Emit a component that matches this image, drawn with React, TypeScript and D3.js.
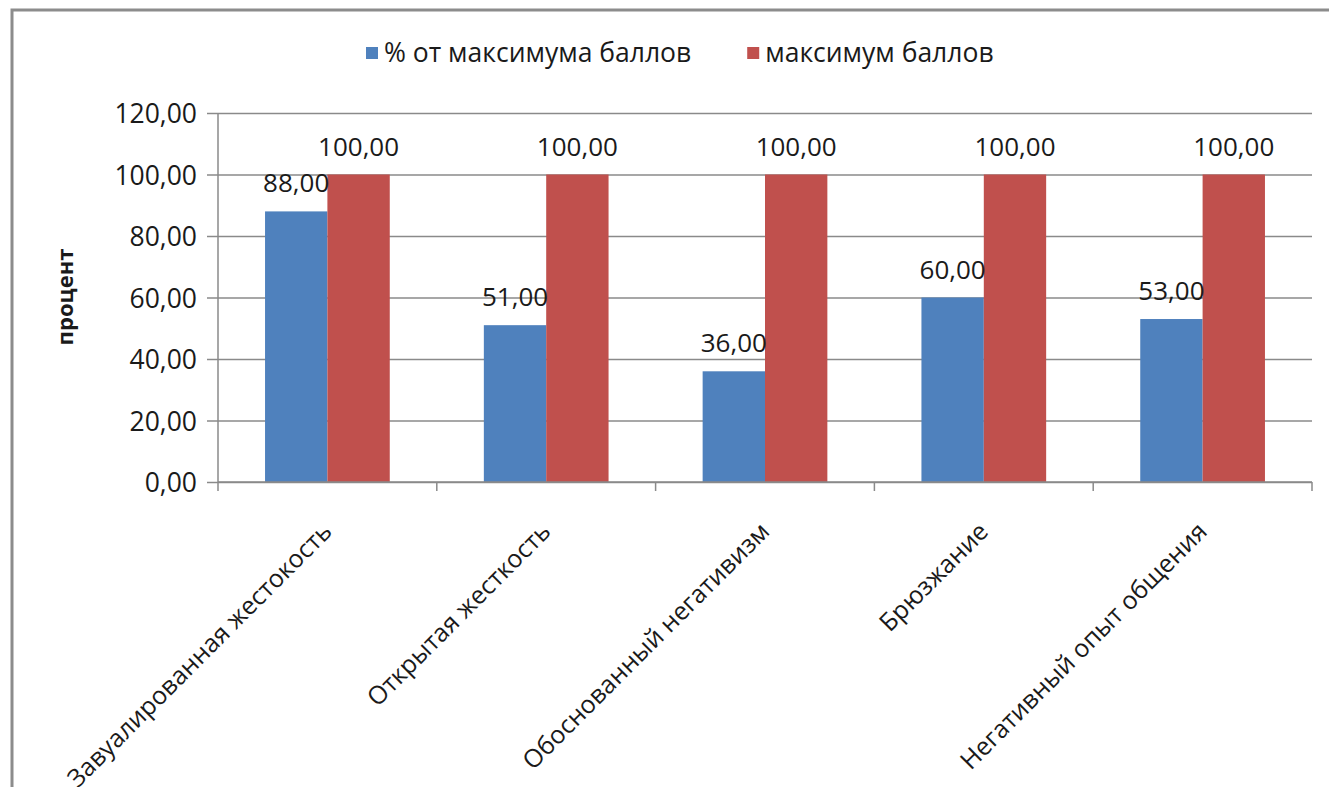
import { useRef, useEffect } from 'react';
import * as d3 from 'd3';

const categories = [
  'Завуалированная жестокость',
  'Открытая жесткость',
  'Обоснованный негативизм',
  'Брюзжание',
  'Негативный опыт общения',
];
const seriesNames = ['% от максимума баллов', 'максимум баллов'];
const percentValues = [88, 51, 36, 60, 53];
const maxValues = [100, 100, 100, 100, 100];
const yTicks = [0, 20, 40, 60, 80, 100, 120];
const colors = ['#4F81BD', '#C0504D'];

const W = 1329;
const H = 787;
const FONT = '"Open Sans", sans-serif';

export default function App() {
  const svgRef = useRef<SVGSVGElement>(null);

  const draw = () => {
    const svg = d3.select(svgRef.current);
    svg.selectAll('*').remove();

    const left = 218, right = 1312, top = 113, bottom = 482;

    // outer chart border
    svg.append('rect')
      .attr('x', 12).attr('y', 10)
      .attr('width', W + 20).attr('height', H + 20)
      .attr('fill', '#fff')
      .attr('stroke', '#8c8c8c')
      .attr('stroke-width', 3);

    const x0 = d3.scaleBand<string>()
      .domain(categories)
      .range([left, right])
      .paddingInner(0.43)
      .paddingOuter(0.215);
    const x1 = d3.scaleBand<number>()
      .domain([0, 1])
      .range([0, x0.bandwidth()]);
    const y = d3.scaleLinear().domain([0, 120]).range([bottom, top]);

    // gridlines + y ticks
    const yAxis = d3.axisLeft(y)
      .tickValues(yTicks)
      .tickSize(-(right - left) - 11)
      .tickFormat(d => d3.format('.2f')(d as number).replace('.', ','));
    const ya = svg.append('g')
      .attr('transform', `translate(${left - 11},0)`)
      .call(yAxis);
    ya.select('.domain').remove();
    ya.selectAll('.tick line')
      .attr('stroke', '#8a8a8a')
      .attr('stroke-width', 1.5);
    ya.selectAll('.tick text')
      .attr('x', -10)
      .attr('dy', '0.36em')
      .style('font-family', FONT)
      .style('font-size', '26.5px')
      .style('fill', '#1a1a1a');

    // y axis line
    svg.append('line')
      .attr('x1', left).attr('x2', left)
      .attr('y1', top).attr('y2', bottom)
      .attr('stroke', '#8a8a8a').attr('stroke-width', 1.5);

    // bars
    const data = categories.map((c, i) => ({ cat: c, vals: [percentValues[i], maxValues[i]] }));
    const groups = svg.append('g').selectAll('g')
      .data(data)
      .enter()
      .append('g')
      .attr('transform', d => `translate(${x0(d.cat)},0)`);

    groups.selectAll('rect')
      .data(d => d.vals.map((v, k) => ({ v, k })))
      .enter()
      .append('rect')
      .attr('x', d => x1(d.k)!)
      .attr('width', x1.bandwidth())
      .attr('y', d => y(d.v))
      .attr('height', d => y(0) - y(d.v))
      .attr('fill', d => colors[d.k]);

    groups.selectAll('text')
      .data(d => d.vals.map((v, k) => ({ v, k })))
      .enter()
      .append('text')
      .attr('x', d => x1(d.k)! + x1.bandwidth() / 2)
      .attr('y', d => y(d.v) - 19)
      .attr('text-anchor', 'middle')
      .style('font-family', FONT)
      .style('font-size', '26px')
      .style('fill', '#1a1a1a')
      .text(d => d3.format('.2f')(d.v).replace('.', ','));

    // x axis line and ticks
    svg.append('line')
      .attr('x1', left).attr('x2', right)
      .attr('y1', bottom).attr('y2', bottom)
      .attr('stroke', '#8a8a8a').attr('stroke-width', 1.5);
    const step = x0.step();
    svg.append('g').selectAll('line')
      .data(d3.range(categories.length + 1))
      .enter()
      .append('line')
      .attr('x1', i => left + i * step).attr('x2', i => left + i * step)
      .attr('y1', bottom).attr('y2', bottom + 9)
      .attr('stroke', '#8a8a8a').attr('stroke-width', 1.5);

    // rotated category labels
    svg.append('g').selectAll('text')
      .data(categories)
      .enter()
      .append('text')
      .attr('transform', d => `translate(${x0(d)! + x0.bandwidth() / 2 + 6},533) rotate(-45)`)
      .attr('text-anchor', 'end')
      .style('font-family', FONT)
      .style('font-size', '25px')
      .style('fill', '#1a1a1a')
      .text(d => d);

    // y axis title
    svg.append('text')
      .attr('transform', `translate(73,297) rotate(-90)`)
      .attr('text-anchor', 'middle')
      .style('font-family', FONT)
      .style('font-size', '22px')
      .style('font-weight', 'bold')
      .style('fill', '#1a1a1a')
      .text('процент');

    // legend
    const legend = svg.append('g').attr('transform', 'translate(366,62)');
    let offset = 0;
    seriesNames.forEach((name, i) => {
      legend.append('rect')
        .attr('x', offset).attr('y', -15)
        .attr('width', 12).attr('height', 12)
        .attr('fill', colors[i]);
      const t = legend.append('text')
        .attr('x', offset + 18).attr('y', 0)
        .style('font-family', FONT)
        .style('font-size', '26.5px')
        .style('fill', '#1a1a1a')
        .text(name);
      const w = (t.node() as SVGTextElement).getComputedTextLength();
      offset += 18 + w + 56;
    });
  };

  useEffect(() => {
    draw();
  }, []);

  return (
    <svg
      ref={svgRef}
      width={W}
      height={H}
      style={{ position: 'absolute', left: 0, top: 0, background: '#fff' }}
    />
  );
}
